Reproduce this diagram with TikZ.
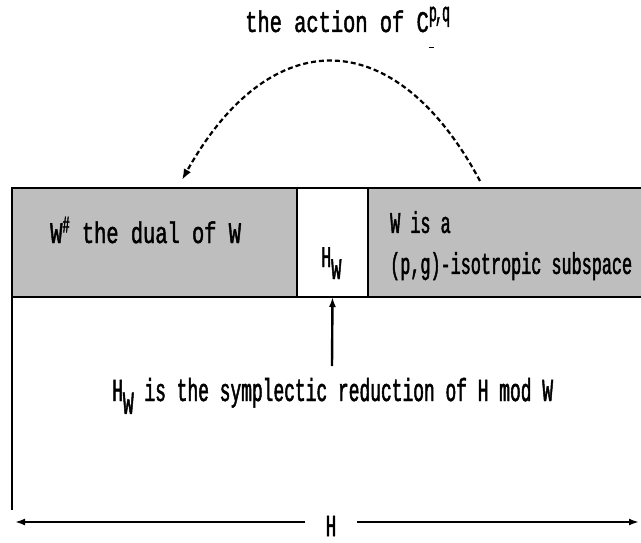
\documentclass[tikz,border=0pt]{standalone}
\usepackage{fontspec}
\usetikzlibrary{arrows.meta, positioning}
\newfontfamily\dotfont[FakeStretch=0.56, FakeBold=1.5]{Liberation Mono}
\newfontfamily\widedotfont[FakeStretch=0.68, FakeBold=1.5]{Liberation Mono}
\newfontfamily\supdotfont[FakeStretch=0.5, FakeBold=1.5]{Liberation Mono}
\definecolor{dotgray}{RGB}{190,190,190}
\newcommand{\lowW}{\raisebox{-0.40em}{W}}
\newcommand{\actsup}{\rlap{\raisebox{0.36em}{\supdotfont\fontsize{27}{27}\selectfont p\kern-2pt,\kern-1pt q}}%
  \raisebox{-0.55em}{\rule{5pt}{1.6pt}}}

\begin{document}
\begin{tikzpicture}[x=1pt, y=-1pt,
  txt/.style  = {font=\fontsize{30}{41}\selectfont\dotfont, inner sep=0pt},
  cell/.style = {draw, line width=2.4pt, minimum height=109pt,
                 inner sep=0pt, outer sep=0pt},
  arr/.style  = {-{Latex[length=10pt, width=7pt]}, line width=2.4pt},
  actcurve/.style = {dash pattern=on 5pt off 3pt, line width=2.2pt,
                 -{Latex[length=11pt, width=8pt]}},
]
  \useasboundingbox (0,0) rectangle (641,543);
  % the strip W# | H_W | W
  \node[cell, fill=dotgray, minimum width=285pt, anchor=north west] (dual) at (12,188) {};
  \node[cell, fill=white,   minimum width=71pt,  right=0pt of dual] (hw)  {};
  \node[cell, fill=dotgray, minimum width=300pt, right=0pt of hw]   (iso) {};
  \node[txt, font=\fontsize{30}{41}\selectfont\widedotfont, anchor=base west] (dl) at (50,243)
    {W\raisebox{0.35em}{\supdotfont\fontsize{24}{24}\selectfont\#} the dual of W};
  \node[txt, anchor=base west] (hwl) at (321,267) {H\lowW};
  \node[txt, anchor=north west, align=left] (il) at (390,211)
    {W is a\\(p,g)-isotropic subspace};
  % action on top
  \node[txt, font=\fontsize{30}{30}\selectfont\widedotfont, anchor=base west] (act) at (245,32)
    {the action of C\actsup};
  \coordinate (cs) at (480,181);
  \coordinate (ce) at (182,180);
  \draw[actcurve] (cs) .. controls (395,22) and (270,22) .. (ce);
  % reduction
  \node[txt, font=\fontsize{32}{41}\selectfont\dotfont, anchor=base west] (red) at (112,401)
    {H\lowW{} is the symplectic reduction of H mod W};
  \coordinate (rtop) at (332,366);
  \draw[arr] (rtop) -- (hw.south);
  % H
  \coordinate (hend) at (12,510);
  \draw[line width=2pt] (dual.south west) -- (hend);
  \node[txt, font=\fontsize{31}{31}\selectfont\dotfont, minimum width=52pt] (hh) at (331,526) {H};
  \coordinate (hl) at (15,522);
  \coordinate (hr) at (639,522);
  \draw[arr] (hl -| hh.west) -- (hl);
  \draw[arr] (hr -| hh.east) -- (hr);
\end{tikzpicture}
\end{document}
